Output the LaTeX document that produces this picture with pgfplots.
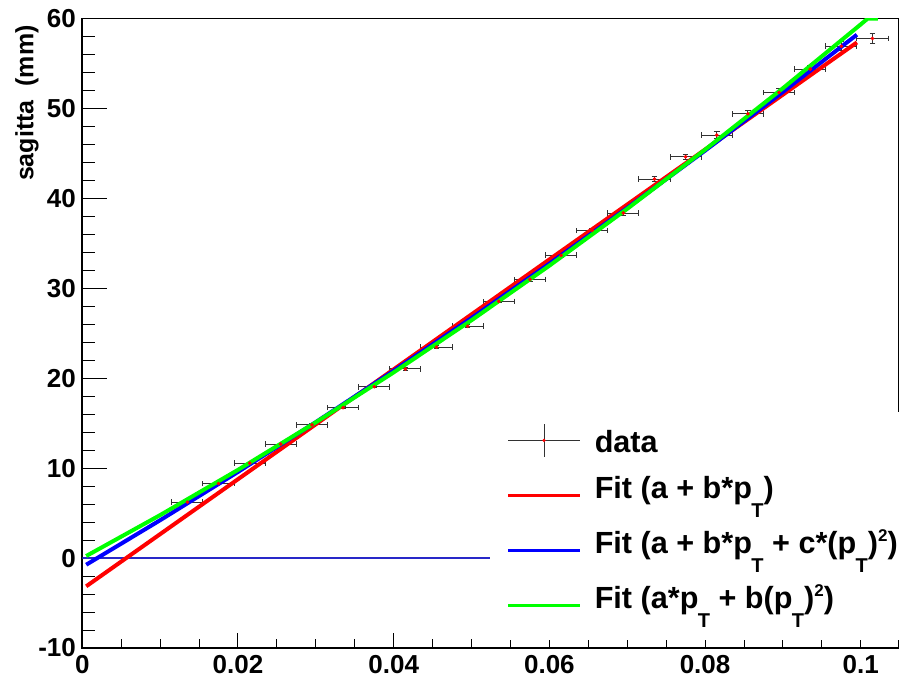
\documentclass[border=0pt]{standalone}
\usepackage{fontspec}
\setmainfont{Liberation Sans}
\usepackage{pgfplots}
\pgfplotsset{compat=1.18}
\usepackage{pgfplotstable}

\definecolor{ebar}{RGB}{50,50,50}
\definecolor{zline}{RGB}{40,40,200}
\definecolor{fred}{RGB}{255,0,0}
\definecolor{fblue}{RGB}{0,0,255}
\definecolor{fgreen}{RGB}{0,255,0}

\newcommand{\pT}{p\kern-0.3pt\raisebox{-9.5pt}{\fontsize{10}{11}\selectfont T}}
\newcommand{\sq}{\raisebox{6.3pt}{\fontsize{8.5}{9}\selectfont 2}}

\pgfplotstableread{
x      y      ex     ey
0.0135 6.22   0.002  0.08
0.0175 8.29   0.002  0.08
0.0215 10.56  0.002  0.09
0.0255 12.67  0.002  0.10
0.0295 14.81  0.002  0.10
0.0335 16.73  0.002  0.12
0.0375 19.05  0.002  0.13
0.0415 21.03  0.002  0.14
0.0455 23.45  0.002  0.15
0.0495 25.78  0.002  0.17
0.0535 28.55  0.002  0.18
0.0575 31.00  0.002  0.20
0.0615 33.67  0.002  0.22
0.0655 36.44  0.002  0.24
0.0695 38.37  0.002  0.26
0.0735 42.14  0.002  0.30
0.0775 44.62  0.002  0.30
0.0815 47.03  0.002  0.36
0.0855 49.40  0.002  0.38
0.0895 51.78  0.002  0.40
0.0935 54.37  0.002  0.45
0.0975 56.92  0.002  0.50
0.1015 57.78  0.002  0.57
}\datatab

\pgfplotsset{
  dataleg/.style={legend image code/.code={
    \draw[ebar, line width=0.5pt] (0pt,1.65pt) -- (36pt,1.65pt);
    \draw[ebar, line width=0.5pt] (18pt,-6.55pt) -- (18pt,9.85pt);
    \fill[red] (18pt,1.65pt) circle (0.6pt);}},
  redleg/.style={legend image code/.code={\draw[fred, line width=1.7pt] (0pt,1.65pt) -- (36pt,1.65pt);}},
  blueleg/.style={legend image code/.code={\draw[fblue, line width=1.7pt] (0pt,1.65pt) -- (36pt,1.65pt);}},
  greenleg/.style={legend image code/.code={\draw[fgreen, line width=1.7pt] (0pt,1.65pt) -- (36pt,1.65pt);}},
}

\begin{document}
\begin{tikzpicture}
\useasboundingbox (-41.15pt,-14pt) rectangle (413.35pt,324pt);
\begin{axis}[
  at={(0pt,0pt)}, anchor=south west,
  scale only axis, width=408pt, height=314.75pt,
  xmin=0, xmax=0.10482, ymin=-10, ymax=60,
  axis line style={line width=0.8pt, black},
  tick align=inside, tick pos=left,
  xtick={0,0.02,0.04,0.06,0.08,0.1},
  xticklabels={0,0.02,0.04,0.06,0.08,0.1},
  ytick={-10,0,10,20,30,40,50,60},
  yticklabels={-10,0,10,20,30,40,50,60},
  minor x tick num=3, minor y tick num=4,
  tick style={line width=0.5pt, black},
  xtick style={/pgfplots/major tick length=7.5pt,/pgfplots/minor tick length=4.5pt},
  ytick style={/pgfplots/major tick length=12.2pt,/pgfplots/minor tick length=6.3pt},
  ticklabel style={font=\bfseries\fontsize{13}{15}\selectfont},
  xticklabel style={inner ysep=3.3pt},
  yticklabel style={inner xsep=3pt},
  ylabel={sagitta\ \ (mm)},
  ylabel style={at={(axis description cs:-0.060,0.9897)}, anchor=base east, inner sep=0pt, font=\bfseries\fontsize{12.5}{14}\selectfont},
  legend cell align=left,
  legend style={at={(0.4996,0.3754)}, anchor=north west, draw=none, fill=white,
    inner xsep=8pt, inner ysep=4.8pt, row sep=5.5pt,
    font=\bfseries\fontsize{15.3}{18}\selectfont,
    nodes={inner sep=0pt, text height=11pt, text depth=11pt},
    /tikz/every odd column/.append style={column sep=6.5pt}},
]

\addplot[forget plot, zline, line width=0.6pt] coordinates {(0,0) (0.1048,0)};

\addplot[dataleg,
  only marks, mark=*, mark size=0.7pt, mark options={draw=red, fill=red},
  error bars/.cd, x dir=both, x explicit, y dir=both, y explicit,
  error bar style={line width=0.5pt, ebar},
  error mark options={rotate=90, mark size=1.4pt, line width=0.5pt, ebar}]
  table[x=x, y=y, x error=ex, y error=ey] {\datatab};
\addlegendentry{\raisebox{-4.2pt}{data}}

\addplot[fred, line width=2pt, redleg]
  coordinates {(0.0005,-3.14) (0.0995,57.34)};
\addlegendentry{Fit (a + b*\pT)}

\addplot[fblue, line width=2pt, blueleg]
  coordinates {(0.0005,-0.74) (0.01,4.21) (0.02,9.58) (0.03,15.12) (0.04,20.83)
   (0.05,26.70) (0.06,32.74) (0.07,38.94) (0.08,45.31) (0.09,51.84) (0.0995,58.20)};
\addlegendentry{Fit (a + b*\pT{} + c*(\pT)\sq)}

\addplot[fgreen, line width=2pt, greenleg]
  coordinates {(0.0005,0.23) (0.01,4.78) (0.02,9.81) (0.03,15.10) (0.04,20.65)
   (0.05,26.45) (0.06,32.52) (0.07,38.84) (0.08,45.42) (0.09,52.25) (0.1,59.35)
   (0.1009,60) (0.1022,60)};
\addlegendentry{Fit (a*\pT{} + b(\pT)\sq)}

\end{axis}
\end{tikzpicture}
\end{document}
